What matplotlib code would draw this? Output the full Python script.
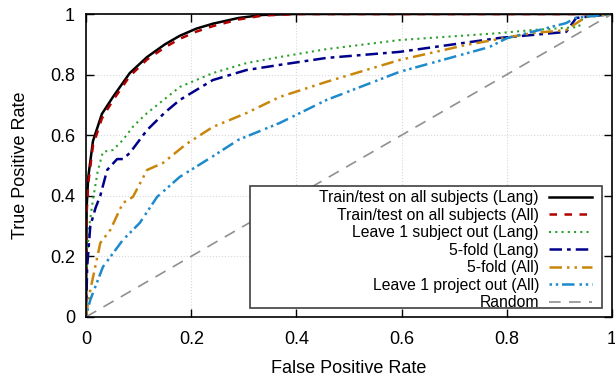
import matplotlib
matplotlib.use("Agg")
import matplotlib.pyplot as plt
from matplotlib.patches import Rectangle

plt.rcParams['font.family'] = ['Liberation Sans', 'DejaVu Sans']

# ROC curves (fpr, tpr)
lang_all_fpr = [0, 0.001, 0.004, 0.013, 0.03, 0.051, 0.083, 0.116, 0.15, 0.178, 0.21, 0.241, 0.29, 0.336, 0.4, 0.6, 1.0]
lang_all_tpr = [0, 0.36, 0.46, 0.58, 0.67, 0.726, 0.805, 0.858, 0.9, 0.928, 0.952, 0.968, 0.987, 0.997, 1.0, 1.0, 1.0]

all_all_fpr = [0, 0.001, 0.004, 0.013, 0.03, 0.051, 0.083, 0.116, 0.15, 0.178, 0.21, 0.241, 0.29, 0.336, 0.4, 0.6, 1.0]
all_all_tpr = [0, 0.34, 0.44, 0.565, 0.655, 0.715, 0.795, 0.85, 0.89, 0.918, 0.942, 0.96, 0.982, 0.995, 1.0, 1.0, 1.0]

subj_lang_fpr = [0, 0.002, 0.006, 0.013, 0.022, 0.032, 0.051, 0.07, 0.09, 0.116, 0.15, 0.178, 0.241, 0.305, 0.368, 0.457, 0.596, 0.786, 0.848, 0.937, 0.945, 1.0]
subj_lang_tpr = [0, 0.2, 0.3, 0.386, 0.48, 0.545, 0.551, 0.584, 0.63, 0.673, 0.72, 0.759, 0.805, 0.838, 0.858, 0.884, 0.914, 0.937, 0.947, 0.957, 0.99, 1.0]

fold_lang_fpr = [0, 0.002, 0.008, 0.018, 0.027, 0.04, 0.059, 0.07, 0.083, 0.116, 0.15, 0.178, 0.241, 0.305, 0.368, 0.457, 0.596, 0.786, 0.913, 0.932, 1.0]
fold_lang_tpr = [0, 0.165, 0.30, 0.36, 0.40, 0.485, 0.521, 0.521, 0.541, 0.617, 0.675, 0.716, 0.782, 0.815, 0.832, 0.855, 0.875, 0.921, 0.941, 0.987, 1.0]

fold_all_fpr = [0, 0.003, 0.008, 0.027, 0.046, 0.07, 0.089, 0.116, 0.146, 0.19, 0.241, 0.305, 0.368, 0.457, 0.596, 0.723, 0.848, 0.913, 0.95, 1.0]
fold_all_tpr = [0, 0.04, 0.089, 0.244, 0.287, 0.376, 0.396, 0.485, 0.508, 0.57, 0.627, 0.673, 0.726, 0.776, 0.848, 0.898, 0.937, 0.947, 0.99, 1.0]

proj_all_fpr = [0, 0.003, 0.008, 0.032, 0.07, 0.102, 0.135, 0.178, 0.241, 0.29, 0.368, 0.457, 0.596, 0.767, 0.8, 0.848, 0.913, 0.93, 1.0]
proj_all_tpr = [0, 0.025, 0.056, 0.165, 0.254, 0.31, 0.396, 0.462, 0.53, 0.585, 0.64, 0.716, 0.809, 0.891, 0.92, 0.941, 0.97, 0.987, 1.0]

random_fpr = [0, 1]
random_tpr = [0, 1]

labels = ['Train/test on all subjects (Lang)', 'Train/test on all subjects (All)',
          'Leave 1 subject out (Lang)', '5-fold (Lang)', '5-fold (All)',
          'Leave 1 project out (All)', 'Random']
ticks = [0, 0.2, 0.4, 0.6, 0.8, 1]
tick_labels = ['0', '0.2', '0.4', '0.6', '0.8', '1']

fig = plt.figure(figsize=(6.15, 3.79), dpi=100)
ax = fig.add_axes([0.14, 0.164, 0.855, 0.799])

ax.plot(lang_all_fpr, lang_all_tpr, color='black', lw=1.8, label=labels[0])
ax.plot(all_all_fpr, all_all_tpr, color='#b00000', lw=1.8, ls=(0, (3, 3)), label=labels[1])
ax.plot(subj_lang_fpr, subj_lang_tpr, color='#2ca02c', lw=1.5, ls=(0, (1, 2)), label=labels[2])
ax.plot(fold_lang_fpr, fold_lang_tpr, color='#00008b', lw=1.8, ls=(0, (5, 2, 1.5, 2)), label=labels[3])
ax.plot(fold_all_fpr, fold_all_tpr, color='#c8860b', lw=1.8, ls=(0, (5, 2, 1, 2, 1, 2)), label=labels[4])
ax.plot(proj_all_fpr, proj_all_tpr, color='#1d8acb', lw=1.8, ls=(0, (1, 1.5, 1, 1.5, 5, 2)), label=labels[5])
ax.plot(random_fpr, random_tpr, color='#909090', lw=1.2, ls=(0, (7, 5)), label=labels[6])

ax.set_xlim(0, 1)
ax.set_ylim(0, 1)
ax.set_xticks(ticks)
ax.set_xticklabels(tick_labels)
ax.set_yticks(ticks)
ax.set_yticklabels(tick_labels)
ax.tick_params(direction='in', length=6, width=1, top=True, right=True, labelsize=13)
ax.tick_params(axis='x', pad=10)
ax.tick_params(axis='y', pad=8)
ax.grid(True, color='#d8d8d8', ls=':', lw=0.8)
for s in ax.spines.values():
    s.set_linewidth(1.2)

ax.set_xlabel('False Positive Rate', fontsize=13, labelpad=9)
ax.set_ylabel('True Positive Rate', fontsize=13, labelpad=15)

# key box, gnuplot style: wider than its entries
ax.add_patch(Rectangle((0.311, 0.030), 0.670, 0.402, transform=ax.transAxes,
                       facecolor='white', edgecolor='#404040', lw=1.2, zorder=4))
leg = ax.legend(loc='lower right', bbox_to_anchor=(0.962, 0.021), markerfirst=False, fontsize=11.3,
                frameon=False, handlelength=2.74, labelspacing=0.16, borderpad=0,
                borderaxespad=0, handletextpad=0.64)
leg.set_zorder(5)
for t in leg.get_texts():
    t.set_ha('right')

fig.savefig('out.png', dpi=100)
